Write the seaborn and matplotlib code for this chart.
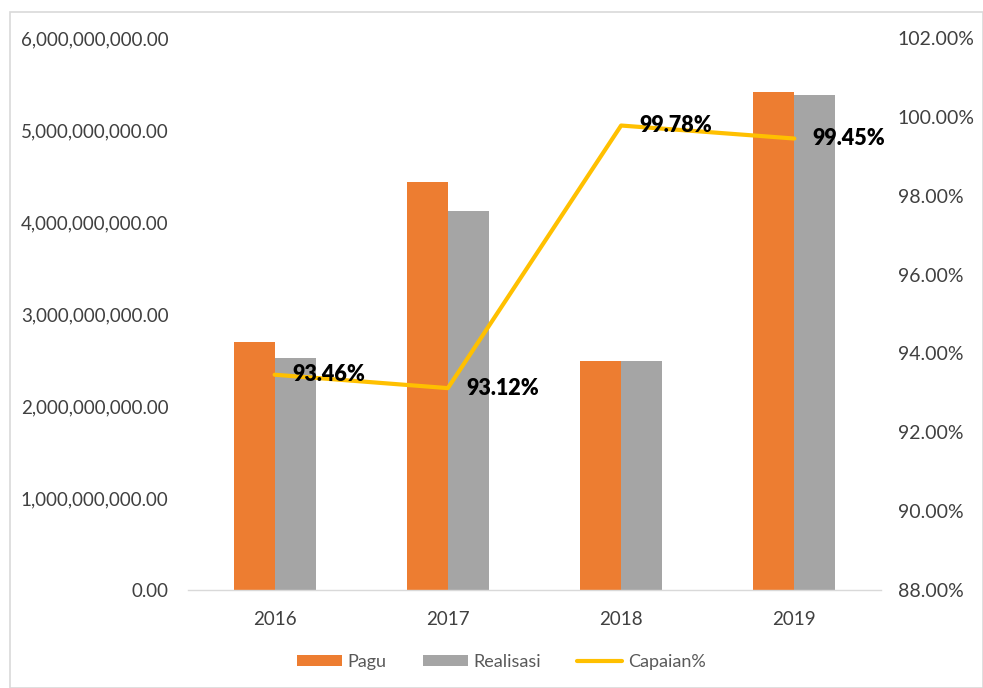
import matplotlib
matplotlib.use("Agg")
import matplotlib.pyplot as plt
import seaborn as sns
import pandas as pd
from matplotlib.ticker import FuncFormatter, FixedLocator
from matplotlib.patches import Rectangle, Patch
from matplotlib.lines import Line2D

years = ["2016", "2017", "2018", "2019"]
pagu = [2.70e9, 4.43e9, 2.49e9, 5.41e9]
realisasi = [2.52e9, 4.125e9, 2.485e9, 5.38e9]
capaian = [93.46, 93.12, 99.78, 99.45]
series_names = ["Pagu", "Realisasi"]
line_name = "Capaian%"

ORANGE = "#ED7D31"
GRAY = "#A5A5A5"
YELLOW = "#FFC000"
TXT = "#404040"

sns.set_theme(style="white")
plt.rcParams["font.family"] = ["Lato", "DejaVu Sans"]

df = pd.DataFrame({
    "Tahun": years * 2,
    "Nilai": pagu + realisasi,
    "Seri": [series_names[0]] * 4 + [series_names[1]] * 4,
})

fig = plt.figure(figsize=(9.83, 6.88), dpi=100)
ax = fig.add_axes([188 / 983, 1 - 590 / 688, 693 / 983, 552 / 688])

sns.barplot(data=df, x="Tahun", y="Nilai", hue="Seri", order=years,
            hue_order=series_names, palette=[ORANGE, GRAY], width=0.474,
            gap=0, saturation=1, ax=ax, legend=False, linewidth=0)
ax.set_xlim(-0.5, 3.5)
ax.set_ylim(0, 6e9)
ax.yaxis.set_major_locator(FixedLocator([i * 1e9 for i in range(7)]))
ax.yaxis.set_major_formatter(FuncFormatter(lambda v, p: f"{v:,.2f}"))
ax.set_xlabel("")
ax.set_ylabel("")
for s in ["top", "left", "right"]:
    ax.spines[s].set_visible(False)
ax.spines["bottom"].set_color("#D9D9D9")
ax.spines["bottom"].set_linewidth(1)
ax.tick_params(axis="y", length=0, pad=14, labelsize=13.5, labelcolor=TXT)
ax.tick_params(axis="x", length=0, pad=15, labelsize=13.5, labelcolor=TXT)

ax2 = ax.twinx()
sns.lineplot(x=years, y=capaian, ax=ax2, color=YELLOW, linewidth=3, sort=False)
ax2.set_ylim(88, 102)
ax2.yaxis.set_major_locator(FixedLocator([88, 90, 92, 94, 96, 98, 100, 102]))
ax2.yaxis.set_major_formatter(FuncFormatter(lambda v, p: f"{v:.2f}%"))
ax2.tick_params(axis="y", length=0, pad=12, labelsize=14, labelcolor=TXT)
ax2.set_ylabel("")
for s in ["top", "left", "right", "bottom"]:
    ax2.spines[s].set_visible(False)
ax2.set_xlim(-0.5, 3.5)

for i, v in enumerate(capaian):
    ax2.annotate(f"{v:.2f}%", xy=(i, v), xytext=(13, 0), textcoords="offset points",
                 ha="left", va="center", fontsize=15.5, fontweight="heavy", color="black")

handles = [Patch(facecolor=ORANGE, edgecolor="none"),
           Patch(facecolor=GRAY, edgecolor="none"),
           Line2D([0], [0], color=YELLOW, linewidth=3)]
fig.legend(handles, series_names + [line_name], loc="center", bbox_to_anchor=(0.51, 1 - 662 / 688),
           ncol=3, frameon=False, fontsize=13, labelcolor="#595959",
           handlelength=2.5, handleheight=0.6, columnspacing=2.0, handletextpad=0.3)

fig.patches.append(Rectangle((10 / 983, 0), 1 - 10 / 983, 1 - 12 / 688, transform=fig.transFigure,
                             fill=False, edgecolor="#D9D9D9", linewidth=1.2))

fig.savefig("out.png", dpi=100)
